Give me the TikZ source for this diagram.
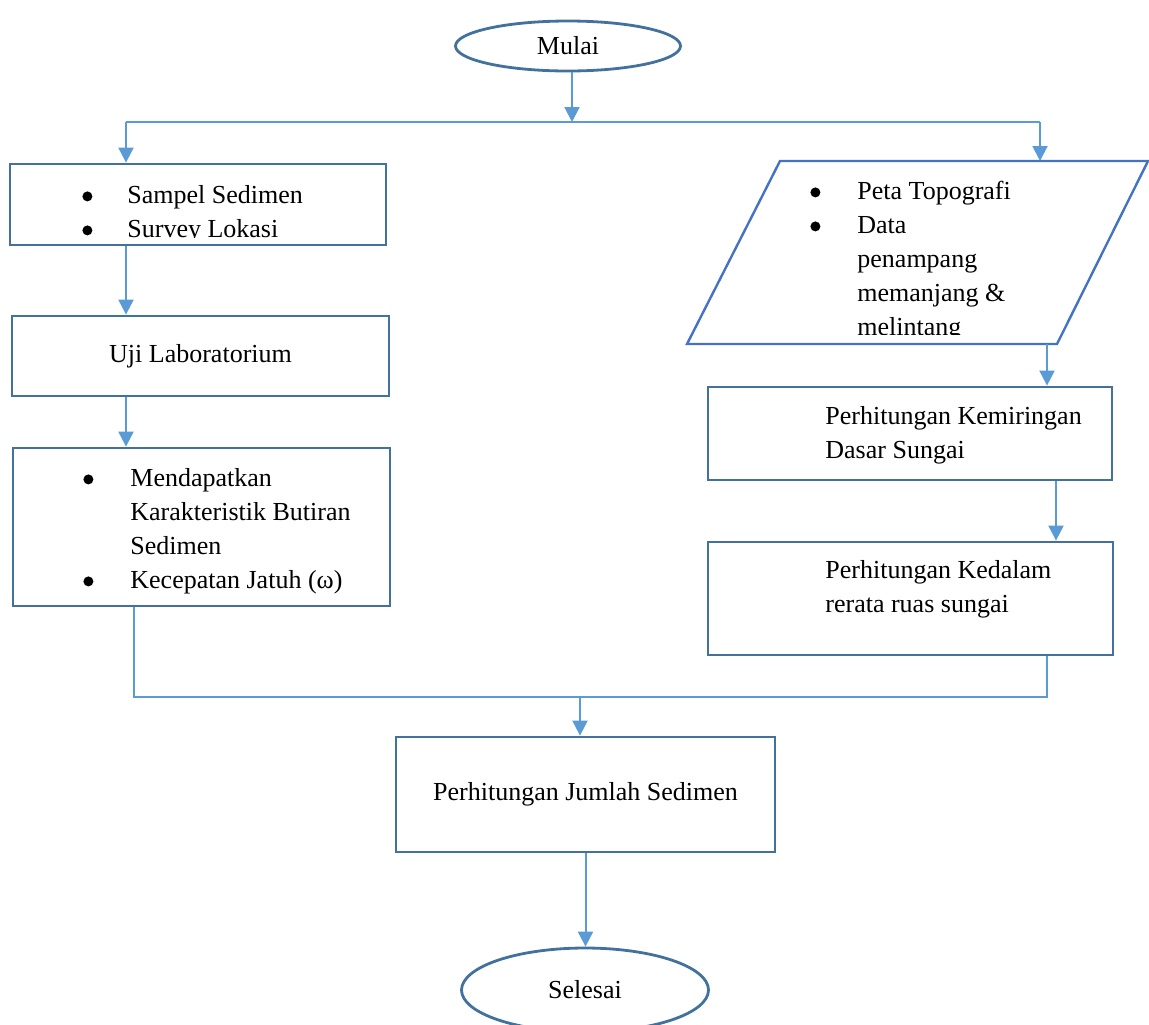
\documentclass[tikz,border=0pt]{standalone}
\usepackage{fontspec}
\setmainfont{Liberation Serif}
\usepackage{tikz}
\usetikzlibrary{positioning, calc}
\usetikzlibrary{arrows.meta}
\usetikzlibrary{shapes.geometric}

\definecolor{garis}{HTML}{41719C}
\definecolor{panah}{HTML}{5B9BD5}
\definecolor{jajar}{HTML}{4472C4}

\newcommand{\titik}{\tikz[baseline=0pt]\fill[black] (2.5pt,3.5pt) circle (2.5pt);}

\tikzset{
    teks/.style = {font=\fontsize{13}{17}\selectfont},
    kotak/.style = {draw=garis, line width=1.4pt, rectangle, teks},
    oval/.style = {draw=garis, line width=1.4pt, ellipse, teks},
    isi/.style = {teks, align=left, anchor=north west, inner sep=0pt},
    alur/.style = {draw=panah, line width=1pt},
    panahan/.style = {alur, -{Triangle[length=7.5pt, width=7.5pt]}}
}

\begin{document}
\begin{tikzpicture}[x = 0.5pt, y = -0.5pt]

    \useasboundingbox (0,0) rectangle (1149,1024);

    % Mulai
    \node[oval, minimum width=112.5pt, minimum height=25pt] (mulai) at (568,46) {Mulai};

    % Kotak kiri
    \node[kotak, minimum width=188pt, minimum height=40.5pt] (sampel) at (198,204.5) {};
    \node[kotak, minimum width=188.5pt, minimum height=40pt] (uji) at (200.5,356) {Uji Laboratorium};
    \node[kotak, minimum width=188.5pt, minimum height=79pt] (karakter) at (201.5,527) {};

    % Jajaran genjang
    \coordinate (pA) at (780,161);
    \coordinate (pB) at (1148,161);
    \coordinate (pC) at (1057,344);
    \coordinate (pD) at (687,344);
    \draw[draw=jajar, line width=1.2pt] (pA) -- (pB) -- (pC) -- (pD) -- cycle;

    % Kotak kanan
    \node[kotak, minimum width=202pt, minimum height=46.5pt] (kemiringan) at (910,433.5) {};
    \node[kotak, minimum width=202.5pt, minimum height=56.5pt] (kedalaman) at (910.5,598.5) {};

    % Kotak bawah dan Selesai
    \node[kotak, minimum width=189.5pt, minimum height=57.5pt] (jumlah) at (585.5,794.5) {Perhitungan Jumlah Sedimen};
    \node[oval, minimum width=123.5pt, minimum height=42pt] (selesai) at (585,990) {Selesai};

    % Isi teks (terpotong)
    \begin{scope}
        \clip (10,164) rectangle (386,237);
        \node[isi] (t-sampel) at (82,183) {\rule{0pt}{10pt}\makebox[22.5pt][l]{\titik}Sampel Sedimen\\
            \makebox[22.5pt][l]{\titik}Survey Lokasi};
    \end{scope}
    \begin{scope}
        \clip (790,163) rectangle (1100,334);
        \node[isi] (t-peta) at (810,179) {\rule{0pt}{10pt}\makebox[23.5pt][l]{\titik}Peta Topografi\\
            \makebox[23.5pt][l]{\titik}Data\\
            \hspace*{23.5pt}penampang\\
            \hspace*{23.5pt}memanjang \&\\
            \hspace*{23.5pt}melintang};
    \end{scope}
    \node[isi] (t-karakter) at (83,466) {\rule{0pt}{10pt}\makebox[23.5pt][l]{\titik}Mendapatkan\\
        \hspace*{23.5pt}Karakteristik Butiran\\
        \hspace*{23.5pt}Sedimen\\
        \makebox[23.5pt][l]{\titik}Kecepatan Jatuh (ω)};
    \node[isi] (t-kemiringan) at (825,404) {\rule{0pt}{10pt}Perhitungan Kemiringan\\ Dasar Sungai};
    \node[isi] (t-kedalaman) at (825,558) {\rule{0pt}{10pt}Perhitungan Kedalam\\ rerata ruas sungai};

    % Percabangan atas
    \coordinate (cabang) at (572,122);
    \coordinate (cabangL) at (126,122);
    \coordinate (cabangR) at (1040,122);
    \draw[panahan] (mulai.south -| cabang) -- (cabang);
    \draw[alur] (cabangL) -- (cabangR);
    \draw[panahan] (cabangL) -- (cabangL |- sampel.north);
    \draw[panahan] (cabangR) -- (cabangR |- pA);

    % Alur kiri
    \draw[panahan] (cabangL |- sampel.south) -- (cabangL |- uji.north);
    \draw[panahan] (cabangL |- uji.south) -- (cabangL |- karakter.north);

    % Alur kanan
    \coordinate (bawahP) at (1047,344);
    \coordinate (turun) at (1056,0);
    \draw[panahan] (bawahP) -- (bawahP |- kemiringan.north);
    \draw[panahan] (turun |- kemiringan.south) -- (turun |- kedalaman.north);

    % Gabungan
    \coordinate (gabungL) at (134,697);
    \coordinate (gabungR) at (1047,697);
    \coordinate (gabung) at (580,697);
    \draw[alur] (gabungL |- karakter.south) -- (gabungL) -- (gabungR) -- (gabungR |- kedalaman.south);
    \draw[panahan] (gabung) -- (gabung |- jumlah.north);
    \draw[panahan] (jumlah.south) -- (jumlah.south |- selesai.north);

\end{tikzpicture}
\end{document}
